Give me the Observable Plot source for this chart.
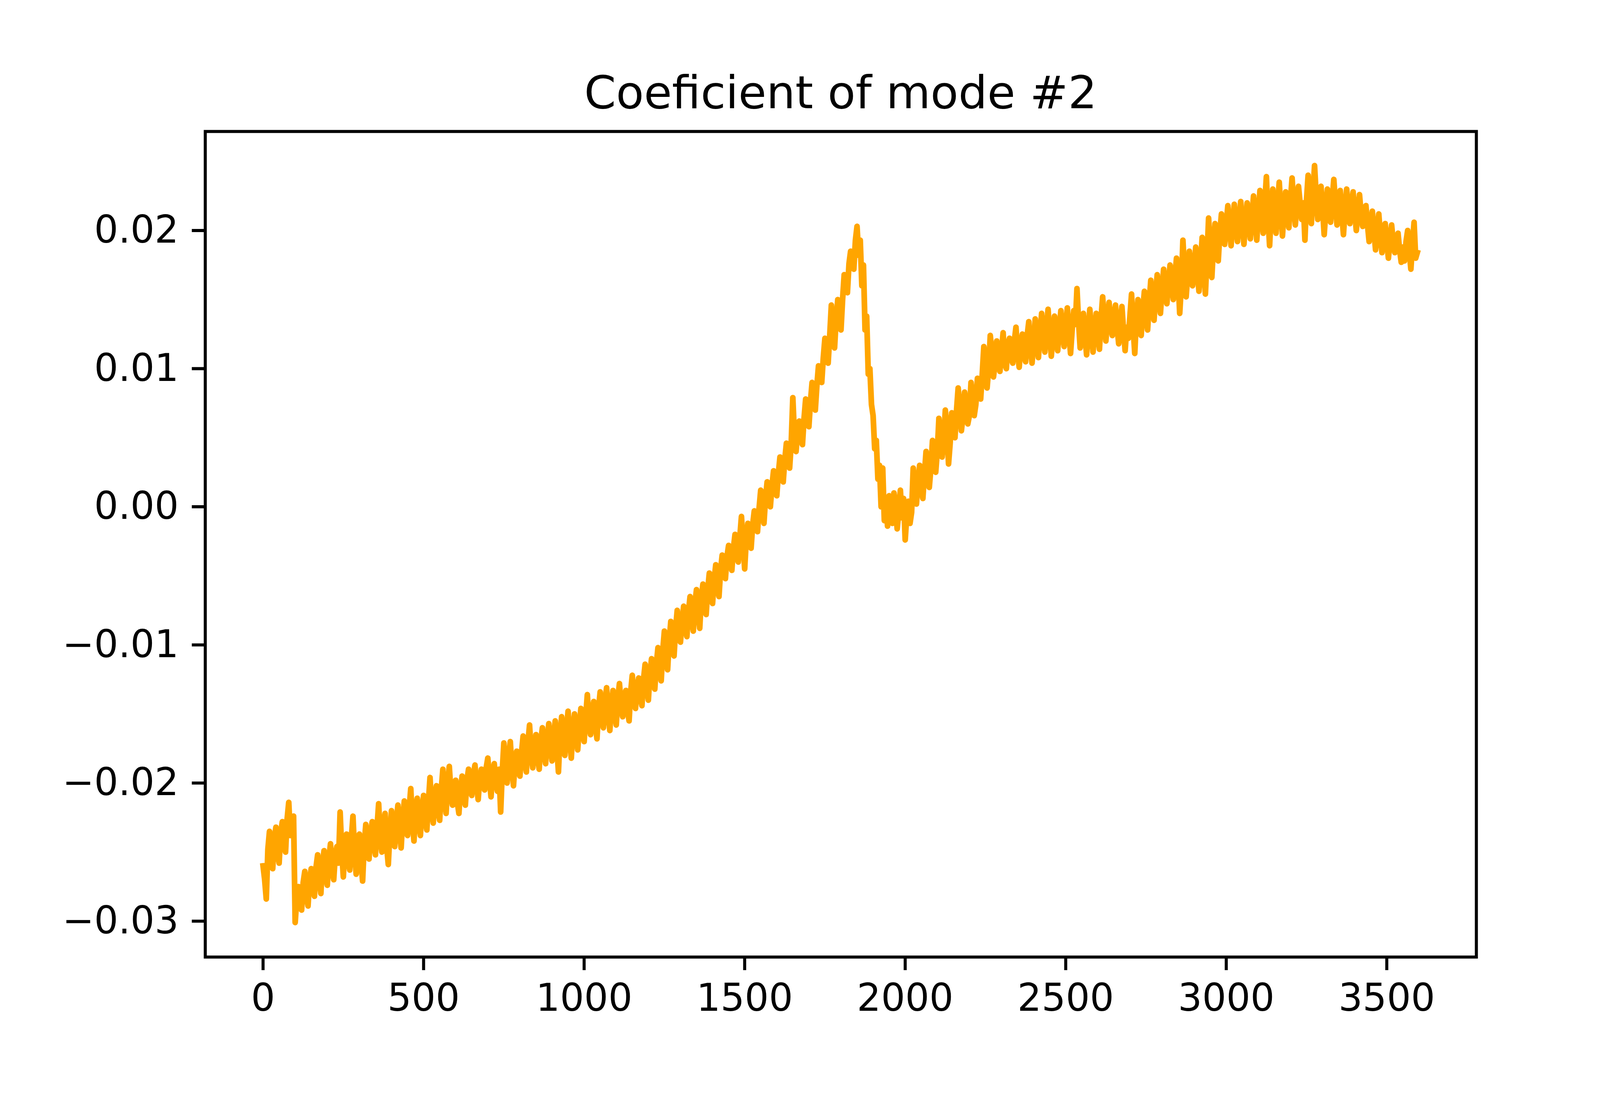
<!DOCTYPE html>
<html>
<head>
<meta charset="utf-8">
<script src="https://cdn.jsdelivr.net/npm/d3@7"></script>
<script src="https://cdn.jsdelivr.net/npm/@observablehq/plot@0.6"></script>
<style>
  html, body { margin: 0; padding: 0; background: #ffffff; overflow: hidden; }
  #wrap { width: 4200px; height: 2800px; position: relative; background: #ffffff; font-family: "DejaVu Sans", sans-serif; color: #000; }
  #title { position: relative; height: 296px; }
  #title div { position: absolute; left: 525px; width: 3254px; top: 179px; text-align: center; font-size: 116.7px; line-height: 116.7px; white-space: nowrap; }
  #chart svg { display: block; }
</style>
</head>
<body>
<div id="wrap">
  <div id="title"><div></div></div>
  <div id="chart"></div>
</div>
<script>
const titleText = "Coeficient of mode #2";
const sampleStep = 5; // one reading every 5 samples
const coefficient = [
  -0.0260,-0.0270,-0.0284,-0.0248,-0.0235,-0.0255,-0.0262,-0.0240,-0.0232,-0.0250,
  -0.0258,-0.0236,-0.0228,-0.0244,-0.0250,-0.0226,-0.0214,-0.0238,-0.0226,-0.0224,
  -0.0301,-0.0284,-0.0275,-0.0290,-0.0292,-0.0272,-0.0264,-0.0281,-0.0289,-0.0270,
  -0.0262,-0.0276,-0.0282,-0.0261,-0.0252,-0.0270,-0.0280,-0.0258,-0.0249,-0.0266,
  -0.0274,-0.0255,-0.0244,-0.0262,-0.0270,-0.0252,-0.0246,-0.0258,-0.0221,-0.0249,
  -0.0268,-0.0246,-0.0237,-0.0256,-0.0263,-0.0240,-0.0224,-0.0250,-0.0266,-0.0244,
  -0.0237,-0.0256,-0.0271,-0.0245,-0.0230,-0.0248,-0.0255,-0.0236,-0.0228,-0.0244,
  -0.0252,-0.0232,-0.0215,-0.0240,-0.0250,-0.0231,-0.0222,-0.0246,-0.0259,-0.0236,
  -0.0220,-0.0238,-0.0246,-0.0228,-0.0216,-0.0235,-0.0247,-0.0226,-0.0213,-0.0230,
  -0.0238,-0.0219,-0.0204,-0.0228,-0.0242,-0.0220,-0.0211,-0.0229,-0.0238,-0.0218,
  -0.0209,-0.0226,-0.0234,-0.0214,-0.0196,-0.0218,-0.0229,-0.0210,-0.0202,-0.0219,
  -0.0227,-0.0205,-0.0190,-0.0210,-0.0222,-0.0200,-0.0188,-0.0206,-0.0216,-0.0201,
  -0.0198,-0.0214,-0.0222,-0.0204,-0.0195,-0.0210,-0.0216,-0.0198,-0.0190,-0.0203,
  -0.0209,-0.0194,-0.0187,-0.0201,-0.0212,-0.0196,-0.0190,-0.0199,-0.0205,-0.0189,
  -0.0182,-0.0197,-0.0210,-0.0193,-0.0186,-0.0198,-0.0206,-0.0190,-0.0221,-0.0192,
  -0.0171,-0.0188,-0.0200,-0.0182,-0.0170,-0.0189,-0.0202,-0.0184,-0.0177,-0.0190,
  -0.0195,-0.0178,-0.0166,-0.0184,-0.0192,-0.0171,-0.0158,-0.0178,-0.0189,-0.0174,
  -0.0165,-0.0181,-0.0190,-0.0170,-0.0160,-0.0177,-0.0186,-0.0168,-0.0157,-0.0174,
  -0.0184,-0.0166,-0.0155,-0.0174,-0.0192,-0.0165,-0.0152,-0.0170,-0.0180,-0.0161,
  -0.0148,-0.0168,-0.0182,-0.0160,-0.0150,-0.0165,-0.0176,-0.0158,-0.0146,-0.0161,
  -0.0170,-0.0152,-0.0136,-0.0156,-0.0165,-0.0148,-0.0141,-0.0158,-0.0168,-0.0146,
  -0.0134,-0.0150,-0.0160,-0.0141,-0.0131,-0.0149,-0.0162,-0.0144,-0.0133,-0.0148,
  -0.0158,-0.0139,-0.0128,-0.0143,-0.0152,-0.0138,-0.0133,-0.0147,-0.0155,-0.0134,
  -0.0122,-0.0138,-0.0146,-0.0131,-0.0124,-0.0137,-0.0144,-0.0125,-0.0114,-0.0130,
  -0.0140,-0.0121,-0.0110,-0.0124,-0.0132,-0.0114,-0.0102,-0.0117,-0.0126,-0.0104,
  -0.0090,-0.0106,-0.0118,-0.0097,-0.0083,-0.0098,-0.0108,-0.0088,-0.0075,-0.0090,
  -0.0098,-0.0083,-0.0072,-0.0087,-0.0094,-0.0076,-0.0065,-0.0080,-0.0090,-0.0070,
  -0.0060,-0.0075,-0.0088,-0.0066,-0.0056,-0.0069,-0.0078,-0.0060,-0.0048,-0.0061,
  -0.0070,-0.0053,-0.0042,-0.0056,-0.0065,-0.0046,-0.0035,-0.0047,-0.0052,-0.0036,
  -0.0028,-0.0040,-0.0046,-0.0030,-0.0020,-0.0033,-0.0040,-0.0022,-0.0007,-0.0026,
  -0.0045,-0.0024,-0.0012,-0.0024,-0.0030,-0.0013,-0.0003,-0.0012,-0.0018,-0.0001,
   0.0012,-0.0002,-0.0012, 0.0006, 0.0018, 0.0007, 0.0000, 0.0015, 0.0026, 0.0014,
   0.0008, 0.0024, 0.0036, 0.0025, 0.0018, 0.0034, 0.0046, 0.0035, 0.0028, 0.0046,
   0.0079, 0.0052, 0.0040, 0.0054, 0.0062, 0.0050, 0.0045, 0.0064, 0.0078, 0.0064,
   0.0058, 0.0076, 0.0090, 0.0078, 0.0070, 0.0088, 0.0102, 0.0094, 0.0090, 0.0108,
   0.0122, 0.0110, 0.0104, 0.0124, 0.0146, 0.0125, 0.0115, 0.0136, 0.0150, 0.0138,
   0.0128, 0.0150, 0.0168, 0.0160, 0.0155, 0.0176, 0.0185, 0.0176, 0.0172, 0.0193,
   0.0203, 0.0182, 0.0193, 0.0160, 0.0175, 0.0128, 0.0138, 0.0096, 0.0100, 0.0074,
   0.0066, 0.0042, 0.0048, 0.0020, 0.0030, 0.0000, 0.0028,-0.0010, 0.0006,-0.0014,
   0.0008,-0.0006,-0.0012, 0.0010, 0.0002,-0.0016,-0.0004, 0.0012,-0.0008, 0.0006,
  -0.0024,-0.0006, 0.0004,-0.0012,-0.0004, 0.0028, 0.0012, 0.0002, 0.0018, 0.0030,
   0.0014, 0.0006, 0.0024, 0.0040, 0.0030, 0.0014, 0.0028, 0.0048, 0.0036, 0.0025,
   0.0040, 0.0064, 0.0052, 0.0036, 0.0048, 0.0070, 0.0058, 0.0031, 0.0046, 0.0068,
   0.0060, 0.0050, 0.0070, 0.0086, 0.0072, 0.0055, 0.0066, 0.0083, 0.0072, 0.0060,
   0.0066, 0.0090, 0.0080, 0.0066, 0.0074, 0.0093, 0.0084, 0.0078, 0.0096, 0.0116,
   0.0104, 0.0086, 0.0100, 0.0124, 0.0112, 0.0094, 0.0104, 0.0120, 0.0110, 0.0098,
   0.0112, 0.0126, 0.0104, 0.0100, 0.0118, 0.0122, 0.0108, 0.0104, 0.0120, 0.0130,
   0.0112, 0.0101, 0.0116, 0.0125, 0.0110, 0.0105, 0.0124, 0.0134, 0.0116, 0.0104,
   0.0118, 0.0136, 0.0122, 0.0108, 0.0126, 0.0140, 0.0124, 0.0112, 0.0128, 0.0143,
   0.0126, 0.0109, 0.0122, 0.0138, 0.0125, 0.0113, 0.0130, 0.0142, 0.0127, 0.0116,
   0.0130, 0.0144, 0.0126, 0.0111, 0.0128, 0.0142, 0.0132, 0.0158, 0.0134, 0.0115,
   0.0128, 0.0140, 0.0124, 0.0110, 0.0127, 0.0143, 0.0128, 0.0112, 0.0126, 0.0140,
   0.0128, 0.0114, 0.0136, 0.0152, 0.0134, 0.0120, 0.0136, 0.0148, 0.0132, 0.0124,
   0.0138, 0.0146, 0.0130, 0.0118, 0.0132, 0.0145, 0.0128, 0.0113, 0.0130, 0.0122,
   0.0138, 0.0154, 0.0130, 0.0111, 0.0136, 0.0150, 0.0136, 0.0124, 0.0142, 0.0156,
   0.0140, 0.0128, 0.0148, 0.0164, 0.0148, 0.0135, 0.0154, 0.0168, 0.0152, 0.0140,
   0.0158, 0.0172, 0.0160, 0.0147, 0.0162, 0.0175, 0.0163, 0.0150, 0.0166, 0.0180,
   0.0165, 0.0140, 0.0160, 0.0193, 0.0170, 0.0152, 0.0168, 0.0185, 0.0172, 0.0160,
   0.0174, 0.0188, 0.0170, 0.0156, 0.0176, 0.0195, 0.0172, 0.0154, 0.0180, 0.0209,
   0.0186, 0.0166, 0.0188, 0.0205, 0.0192, 0.0178, 0.0198, 0.0212, 0.0200, 0.0190,
   0.0205, 0.0218, 0.0202, 0.0189, 0.0206, 0.0219, 0.0204, 0.0192, 0.0208, 0.0221,
   0.0206, 0.0190, 0.0207, 0.0220, 0.0208, 0.0194, 0.0210, 0.0225, 0.0210, 0.0193,
   0.0212, 0.0229, 0.0214, 0.0198, 0.0220, 0.0239, 0.0210, 0.0189, 0.0214, 0.0230,
   0.0216, 0.0198, 0.0218, 0.0235, 0.0215, 0.0196, 0.0214, 0.0228, 0.0216, 0.0202,
   0.0222, 0.0238, 0.0220, 0.0204, 0.0218, 0.0232, 0.0220, 0.0208, 0.0220, 0.0193,
   0.0222, 0.0240, 0.0222, 0.0205, 0.0226, 0.0247, 0.0226, 0.0208, 0.0220, 0.0232,
   0.0216, 0.0197, 0.0214, 0.0230, 0.0218, 0.0206, 0.0222, 0.0237, 0.0220, 0.0204,
   0.0216, 0.0229, 0.0212, 0.0197, 0.0215, 0.0230, 0.0216, 0.0205, 0.0217, 0.0228,
   0.0214, 0.0200, 0.0212, 0.0226, 0.0212, 0.0203, 0.0210, 0.0218, 0.0204, 0.0192,
   0.0202, 0.0214, 0.0200, 0.0186, 0.0198, 0.0212, 0.0197, 0.0184, 0.0194, 0.0205,
   0.0192, 0.0180, 0.0192, 0.0204, 0.0192, 0.0184, 0.0190, 0.0198, 0.0186, 0.0177,
   0.0188, 0.0178, 0.0192, 0.0200, 0.0185, 0.0172, 0.0190, 0.0206, 0.0180, 0.0184
];
const xTicks = [0, 500, 1000, 1500, 2000, 2500, 3000, 3500];
const yTicks = [-0.03, -0.02, -0.01, 0.00, 0.01, 0.02];
const xDomain = [-180, 3779];
const yDomain = [-0.0326, 0.02717];

const series = coefficient.map((v, i) => ({index: i * sampleStep, value: v}));

const chart = Plot.plot({
  width: 4200,
  height: 2504,
  marginTop: 40,
  marginBottom: 351,
  marginLeft: 525,
  marginRight: 421,
  style: {fontFamily: "DejaVu Sans", fontSize: "97.2px", background: "#ffffff", color: "#000000", overflow: "visible"},
  x: {domain: xDomain},
  y: {domain: yDomain},
  marks: [
    Plot.line(series, {x: "index", y: "value", stroke: "#ffa500", strokeWidth: 14.6, strokeLinejoin: "round", strokeLinecap: "square"}),
    Plot.frame({stroke: "#000000", strokeWidth: 7.8}),
    Plot.axisX({ticks: xTicks, tickFormat: d3.format("d"), tickSize: 34, tickPadding: 34, strokeWidth: 7.8, fontSize: 97.2, label: null}),
    Plot.axisY({ticks: yTicks, tickFormat: d3.format(".2f"), tickSize: 34, tickPadding: 34, strokeWidth: 7.8, fontSize: 97.2, label: null})
  ]
});
document.getElementById("chart").appendChild(chart);
document.querySelector("#title div").textContent = titleText;
</script>
</body>
</html>
